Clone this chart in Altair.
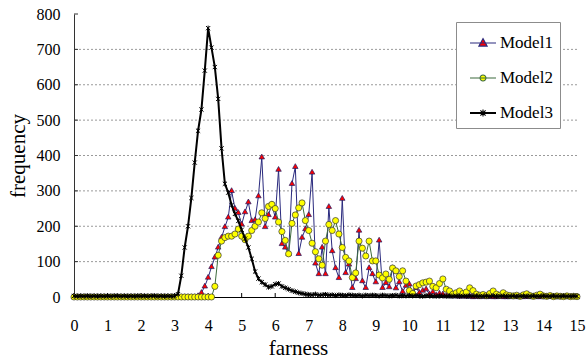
import altair as alt
import numpy as np
import pandas as pd

MODELS = ["Model1", "Model2", "Model3"]
FARNESS = [round(v, 1) for v in np.arange(0, 15.01, 0.1)]  # sampling grid 0.0 .. 15.0
X_TICKS = list(range(0, 16))
Y_TICKS = [0, 100, 200, 300, 400, 500, 600, 700, 800]
GRID_VALUES = [100, 200, 300, 400, 500, 600, 700]

MODEL1 = [
    0, 0, 0, 0, 0, 0, 0, 0, 0, 0,
    0, 0, 0, 0, 0, 0, 0, 0, 0, 0,
    0, 0, 0, 0, 0, 0, 0, 0, 0, 0,
    0, 0, 0, 0, 0, 0, 0, 3, 12, 30,
    55, 85, 112, 140, 168, 198, 225, 300, 250, 238,
    205, 240, 268, 215, 218, 285, 395, 198, 232, 262,
    225, 360, 150, 140, 122, 320, 368, 122, 168, 192,
    232, 352, 95, 65, 140, 65, 255, 130, 82, 54,
    278, 68, 92, 26, 51, 188, 45, 26, 82, 65,
    42, 160, 26, 40, 28, 82, 25, 42, 15, 32,
    36, 10, 26, 12, 18, 22, 8, 14, 5, 10,
    8, 3, 5, 2, 4, 1, 3, 1, 2, 0,
    1, 0, 2, 0, 1, 0, 0, 1, 0, 0,
    0, 1, 0, 0, 0, 1, 0, 0, 0, 0,
    0, 0, 1, 0, 0, 0, 0, 1, 0, 0,
    0,
]
MODEL2 = [
    0, 0, 0, 0, 0, 0, 0, 0, 0, 0,
    0, 0, 0, 0, 0, 0, 0, 0, 0, 0,
    0, 0, 0, 0, 0, 0, 0, 0, 0, 0,
    0, 0, 0, 0, 0, 0, 0, 0, 0, 0,
    0, 0, 30, 118, 158, 168, 172, 172, 178, 192,
    172, 162, 172, 188, 200, 212, 238, 222, 256, 262,
    250, 212, 185, 160, 122, 208, 232, 252, 266, 216,
    188, 152, 128, 108, 90, 158, 205, 188, 216, 178,
    140, 112, 102, 55, 68, 158, 138, 116, 158, 102,
    102, 62, 54, 65, 50, 82, 74, 58, 74, 45,
    18, 10, 31, 35, 40, 42, 45, 30, 26, 38,
    51, 22, 17, 8, 12, 17, 10, 14, 26, 18,
    8, 5, 7, 4, 10, 17, 8, 5, 12, 6,
    4, 3, 5, 2, 6, 9, 4, 2, 5, 8,
    3, 2, 4, 1, 3, 2, 1, 3, 1, 2,
    1,
]
MODEL3 = [
    3, 2, 3, 2, 3, 2, 3, 2, 3, 2,
    3, 2, 3, 3, 2, 3, 2, 3, 2, 3,
    2, 3, 2, 3, 3, 2, 3, 2, 3, 2,
    3, 8, 60, 140, 200, 280, 380, 470, 530, 640,
    760, 705, 650, 560, 420, 320, 295, 260, 235, 215,
    190, 165, 140, 108, 72, 52, 42, 35, 28, 30,
    36, 38, 30, 26, 22, 18, 15, 12, 10, 8,
    7, 6, 8, 5, 6, 7, 5, 6, 4, 6,
    5, 4, 6, 5, 4, 5, 3, 5, 4, 5,
    4, 3, 5, 4, 3, 4, 5, 3, 4, 3,
    4, 3, 4, 3, 2, 4, 3, 3, 2, 3,
    3, 2, 3, 2, 3, 2, 3, 2, 3, 2,
    3, 2, 2, 3, 2, 3, 2, 2, 3, 2,
    2, 3, 2, 2, 3, 2, 2, 3, 2, 2,
    3, 2, 2, 3, 2, 2, 3, 2, 2, 3,
    2,
]

LINE_COLORS = ["#2a2a7e", "#3d6b3d", "#000000"]
FILL_COLORS = ["#ff0000", "#ffff00", "#000000"]
MARKER_STROKES = ["#1c1c66", "#333333", "#000000"]

W, H = 503, 283
FONT = "Liberation Serif"
LEG_FONT = "Liberation Serif, Times New Roman, serif"

def frame(vals, name):
    n = min(len(vals), len(FARNESS))
    return pd.DataFrame({"farness": FARNESS[:n], "frequency": vals[:n], "model": name})

x_scale = alt.Scale(domain=[0, 15], nice=False, zero=False)
y_scale = alt.Scale(domain=[0, 800], nice=False)

X_AXIS = alt.Axis(values=X_TICKS, format="d", title="farness", labelPadding=20, ticks=False, tickSize=0,
                  grid=False, titlePadding=4, domainColor="#000000", labelFlush=False,
                  titleX=224, titleAlign="center", titleAnchor="start",
                  labelFont=FONT, labelFontSize=16, labelColor="#000000",
                  titleFont=FONT, titleFontSize=21, titleFontWeight="normal", titleColor="#000000")
Y_AXIS = alt.Axis(values=Y_TICKS, title="frequency", labelPadding=14, ticks=False, tickSize=0,
                  grid=False, titlePadding=8, domainColor="#333333",
                  labelFont=FONT, labelFontSize=16, labelColor="#000000",
                  titleFont=FONT, titleFontSize=21, titleFontWeight="normal", titleColor="#000000")

def xenc(field="farness:Q"):
    return alt.X(field, scale=x_scale, axis=X_AXIS, title="farness")

def yenc(field="frequency:Q"):
    return alt.Y(field, scale=y_scale, axis=Y_AXIS, title="frequency")

layers = []
series = [MODEL1, MODEL2, MODEL3]
TRI = "M0,-1.15L1,0.6L-1,0.6Z"
STAR = "M-1,-1L1,1M-1,1L1,-1M0,-1.2L0,1.2"
for i, vals in enumerate(series):
    df = frame(vals, MODELS[i])
    base = alt.Chart(df)
    line = base.mark_line(color=LINE_COLORS[i], strokeWidth=2.0 if i == 2 else 1.0).encode(x=xenc(), y=yenc())
    if i == 0:
        pts = base.mark_point(shape=TRI, filled=True, fill=FILL_COLORS[0], stroke=MARKER_STROKES[0],
                              strokeWidth=0.7, size=30, opacity=1).encode(x=xenc(), y=yenc())
    elif i == 1:
        pts = base.mark_point(shape="circle", filled=True, fill=FILL_COLORS[1], stroke=MARKER_STROKES[1],
                              strokeWidth=0.7, size=38, opacity=1).encode(x=xenc(), y=yenc())
    else:
        pts = base.mark_point(shape=STAR, filled=False, stroke="#000000", strokeWidth=1.0,
                              size=18, opacity=1).encode(x=xenc(), y=yenc())
    layers += [line, pts]

grid = alt.Chart(pd.DataFrame({"frequency": GRID_VALUES})).mark_rule(
    color="#9a9a9a", strokeDash=[2, 2], strokeWidth=1
).encode(y=yenc(), x=alt.value(1), x2=alt.value(W))

xt = alt.Chart(pd.DataFrame({"farness": X_TICKS})).mark_rule(color="#000000", strokeWidth=1).encode(
    x=xenc(), y=alt.value(H - 4), y2=alt.value(H))
yt = alt.Chart(pd.DataFrame({"frequency": Y_TICKS})).mark_rule(color="#333333", strokeWidth=1).encode(
    y=yenc(), x=alt.value(0), x2=alt.value(4))

layers = [grid, xt, yt] + layers

# legend (line + marker symbols)
LEG_SHAPES = [
    "M-1,0H1M0,-0.34L0.32,0.24L-0.32,0.24Z",
    "M-1,0H1M0.23,0A0.23,0.23 0 1,1 -0.23,0A0.23,0.23 0 1,1 0.23,0Z",
    "M-1,0H1M-0.2,-0.2L0.2,0.2M-0.2,0.2L0.2,-0.2M0,-0.26L0,0.26M-1,0.03H1M-1,-0.03H1",
]
leg = alt.Legend(title=None, orient="none", legendX=382, legendY=8, padding=7,
                 strokeColor="#8c8c8c", fillColor="#ffffff", symbolOffset=6,
                 labelFont=LEG_FONT, labelFontSize=17, labelColor="#000000", labelOffset=3,
                 rowPadding=13, symbolSize=676, symbolOpacity=1, symbolStrokeWidth=1.1)
legend_layer = alt.Chart(pd.DataFrame({"model": MODELS})).mark_point(filled=True, clip=True).encode(
    x=alt.value(-60), y=alt.value(-60),
    shape=alt.Shape("model:N", scale=alt.Scale(domain=MODELS, range=LEG_SHAPES), legend=leg),
    fill=alt.Fill("model:N", scale=alt.Scale(domain=MODELS, range=FILL_COLORS), legend=leg),
    stroke=alt.Stroke("model:N", scale=alt.Scale(domain=MODELS, range=LINE_COLORS), legend=leg),
)
layers.append(legend_layer)

chart = alt.layer(*layers).properties(
    width=W, height=H,
    background="#ffffff",
    autosize=alt.AutoSizeParams(type="none"),
    padding={"left": 74, "top": 14, "right": 11, "bottom": 66},
).configure(
    font=FONT, style={"guide-label": {"font": LEG_FONT}},
).configure_view(stroke=None).configure_axis(
    labelFont=FONT, labelFontSize=16, labelColor="#000000",
    titleFont=FONT, titleFontSize=21, titleFontWeight="normal", titleColor="#000000",
).configure_legend(
    labelFont=LEG_FONT, labelFontSize=17, labelColor="#000000",
)

chart.save("out.html", embed_options={"renderer": "svg", "actions": False})
